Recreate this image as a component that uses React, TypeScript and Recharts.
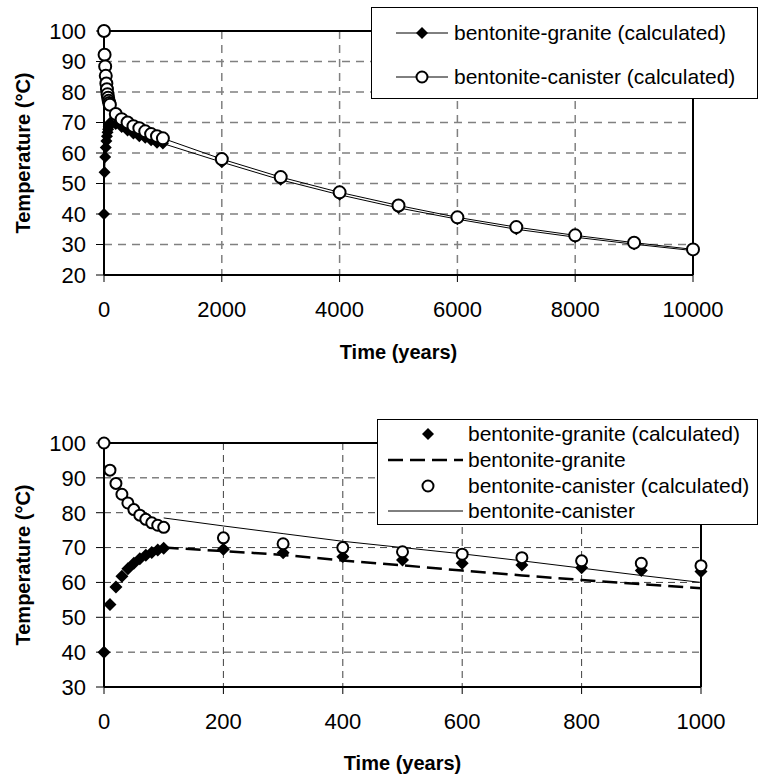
import { LineChart, Line, XAxis, YAxis, CartesianGrid, ReferenceLine, Legend, Label } from 'recharts'

// calculated points (both charts share them, the lower one stops at 1000 years)
const CALC_TIME = [0, 10, 20, 30, 40, 50, 60, 70, 80, 90, 100, 200, 300, 400, 500, 600, 700, 800, 900, 1000, 2000, 3000, 4000, 5000, 6000, 7000, 8000, 9000, 10000]
const GRANITE_CALC = [40, 53.7, 58.7, 61.8, 63.9, 65.5, 66.8, 67.8, 68.6, 69.3, 69.8, 69.5, 68.5, 67.4, 66.4, 65.5, 65.0, 64.2, 63.4, 63.1, 57.0, 51.2, 46.3, 42.0, 38.3, 35.0, 32.4, 30.1, 28.0]
const CANISTER_CALC = [100, 92.2, 88.4, 85.3, 82.8, 80.9, 79.3, 78.1, 77.1, 76.4, 75.8, 72.8, 71.1, 70.0, 68.8, 68.1, 67.1, 66.2, 65.5, 64.8, 58.0, 52.1, 47.1, 42.8, 38.9, 35.7, 33.0, 30.6, 28.4]

// model curves in the lower chart
const MODEL_TIME = [100, 200, 300, 400, 500, 600, 700, 800, 900, 1000]
const GRANITE_MODEL = [70.0, 69.0, 67.9, 66.3, 64.9, 63.4, 62.0, 60.7, 59.5, 58.3]
const CANISTER_MODEL = [78.5, 76.2, 74.0, 71.8, 70.0, 68.2, 66.2, 64.1, 62.0, 60.0]

const TOP_X_TICKS = [0, 2000, 4000, 6000, 8000, 10000]
const TOP_Y_TICKS = [20, 30, 40, 50, 60, 70, 80, 90, 100]
const BOT_X_TICKS = [0, 200, 400, 600, 800, 1000]
const BOT_Y_TICKS = [30, 40, 50, 60, 70, 80, 90, 100]

const TOP_LEGEND = ['bentonite-granite (calculated)', 'bentonite-canister (calculated)']
const BOT_LEGEND = ['bentonite-granite (calculated)', 'bentonite-granite', 'bentonite-canister (calculated)', 'bentonite-canister']

const FONT = '"Liberation Sans", Arial, sans-serif'
const tick = { fontSize: 22, fill: '#000', fontFamily: FONT }
const titleStyle = { fontSize: 20, fontWeight: 700, fill: '#000', fontFamily: FONT }
const axisLine = { stroke: '#000', strokeWidth: 2 }

const rows = (ts: number[], vs: number[], maxT = Infinity) =>
  ts.map((t, i) => ({ t, v: vs[i] })).filter(r => r.t <= maxT)

const diamond = (s: number) => (props: any) => {
  const { cx, cy, index } = props
  if (cx == null || cy == null) return <g key={`dm-${index}`} />
  return <path key={`dm-${index}`} d={`M${cx},${cy - s}L${cx + s},${cy}L${cx},${cy + s}L${cx - s},${cy}Z`} fill="#000" />
}

function TopLegend() {
  return (
    <div style={{ boxSizing: 'border-box', width: 387, height: 92, border: '1px solid #000', background: '#fff', position: 'relative', fontFamily: FONT, fontSize: 21, color: '#000' }}>
      {TOP_LEGEND.map((name, i) => (
        <div key={name} style={{ position: 'absolute', left: 0, top: i === 0 ? 13 : 57, height: 24, display: 'flex', alignItems: 'center', whiteSpace: 'nowrap', lineHeight: '24px' }}>
          <svg width={82} height={24}>
            <line x1={24} x2={76} y1={12} y2={12} stroke="#000" />
            {i === 0
              ? <path d="M50,6L56,12L50,18L44,12Z" fill="#000" />
              : <circle cx={50} cy={12} r={5.5} fill="#fff" stroke="#000" strokeWidth={2} />}
          </svg>
          <span>{name}</span>
        </div>
      ))}
    </div>
  )
}

function BottomLegend() {
  const tops = [2, 28, 54, 79]
  return (
    <div style={{ boxSizing: 'border-box', width: 381, height: 106, border: '1px solid #000', background: '#fff', position: 'relative', fontFamily: FONT, fontSize: 21, color: '#000' }}>
      {BOT_LEGEND.map((name, i) => (
        <div key={name} style={{ position: 'absolute', left: 0, top: tops[i], height: 24, display: 'flex', alignItems: 'center', whiteSpace: 'nowrap', lineHeight: '24px' }}>
          <svg width={90} height={24}>
            {i === 0 && <path d="M50,6L56,12L50,18L44,12Z" fill="#000" />}
            {i === 1 && <line x1={10} x2={85} y1={12} y2={12} stroke="#000" strokeWidth={2.5} strokeDasharray="15 7" />}
            {i === 2 && <circle cx={50} cy={12} r={5.5} fill="#fff" stroke="#000" strokeWidth={2} />}
            {i === 3 && <line x1={10} x2={85} y1={12} y2={12} stroke="#000" strokeWidth={1} />}
          </svg>
          <span>{name}</span>
        </div>
      ))}
    </div>
  )
}

function TopChart() {
  return (
    <LineChart width={758} height={380} margin={{ top: 31, right: 65, bottom: 15, left: 0 }}>
      <CartesianGrid stroke="#808080" strokeWidth={1.5} strokeDasharray="8 6" />
      <XAxis type="number" dataKey="t" domain={[0, 10000]} ticks={TOP_X_TICKS} interval={0} height={90} tickSize={7} tickMargin={19}
        tick={tick} axisLine={axisLine} tickLine={{ stroke: '#000' }}>
        <Label value="Time (years)" position="insideBottom" offset={6} style={titleStyle} />
      </XAxis>
      <YAxis type="number" domain={[20, 100]} ticks={TOP_Y_TICKS} interval={0} width={104} tickSize={8} tickMargin={10}
        tick={tick} axisLine={axisLine} tickLine={{ stroke: '#000' }}>
        <Label value="Temperature (°C)" angle={-90} position="insideLeft" offset={23} style={{ ...titleStyle, textAnchor: 'middle' }} />
      </YAxis>
      <ReferenceLine y={100} stroke="#000" strokeWidth={2} />
      <ReferenceLine x={10000} stroke="#000" strokeWidth={2} />
      <Line data={rows(CALC_TIME, GRANITE_CALC)} dataKey="v" stroke="#000" strokeWidth={1}
        dot={diamond(6)} isAnimationActive={false} />
      <Line data={rows(CALC_TIME, CANISTER_CALC)} dataKey="v" stroke="#000" strokeWidth={1}
        dot={{ r: 6, fill: '#fff', stroke: '#000', strokeWidth: 2 }} isAnimationActive={false} />
      <Legend layout="vertical" align="center" verticalAlign="middle" content={() => <TopLegend />}
        wrapperStyle={{ left: 371, top: 7, width: 387, height: 92 }} />
    </LineChart>
  )
}

function BottomChart() {
  return (
    <LineChart width={758} height={376} margin={{ top: 43, right: 57, bottom: 0, left: 0 }}>
      <CartesianGrid stroke="#404040" strokeWidth={1} strokeDasharray="7 5" />
      <XAxis type="number" dataKey="t" domain={[0, 1000]} ticks={BOT_X_TICKS} interval={0} height={89} tickSize={7} tickMargin={19}
        tick={tick} axisLine={axisLine} tickLine={{ stroke: '#000' }}>
        <Label value="Time (years)" position="insideBottom" offset={6} style={titleStyle} />
      </XAxis>
      <YAxis type="number" domain={[30, 100]} ticks={BOT_Y_TICKS} interval={0} width={104} tickSize={8} tickMargin={10}
        tick={tick} axisLine={axisLine} tickLine={{ stroke: '#000' }}>
        <Label value="Temperature (°C)" angle={-90} position="insideLeft" offset={23} style={{ ...titleStyle, textAnchor: 'middle' }} />
      </YAxis>
      <ReferenceLine y={100} stroke="#000" strokeWidth={2} />
      <ReferenceLine x={1000} stroke="#000" strokeWidth={2} />
      <Line data={rows(CALC_TIME, GRANITE_CALC, 1000)} dataKey="v" stroke="none"
        dot={diamond(6.5)} isAnimationActive={false} />
      <Line data={rows(MODEL_TIME, GRANITE_MODEL)} dataKey="v" stroke="#000" strokeWidth={2.5} strokeDasharray="15 7"
        dot={false} isAnimationActive={false} />
      <Line data={rows(CALC_TIME, CANISTER_CALC, 1000)} dataKey="v" stroke="none"
        dot={{ r: 5.5, fill: '#fff', stroke: '#000', strokeWidth: 2 }} isAnimationActive={false} />
      <Line data={rows(MODEL_TIME, CANISTER_MODEL)} dataKey="v" stroke="#000" strokeWidth={1}
        dot={false} isAnimationActive={false} />
      <Legend layout="vertical" align="center" verticalAlign="middle" content={() => <BottomLegend />}
        wrapperStyle={{ left: 377, top: 19, width: 381, height: 106 }} />
    </LineChart>
  )
}

export default function App() {
  return (
    <div style={{ position: 'absolute', left: 0, top: 0, width: 758, height: 776, background: '#fff', overflow: 'hidden' }}>
      <div style={{ position: 'absolute', left: 0, top: 0 }}>
        <TopChart />
      </div>
      <div style={{ position: 'absolute', left: 0, top: 400 }}>
        <BottomChart />
      </div>
    </div>
  )
}
